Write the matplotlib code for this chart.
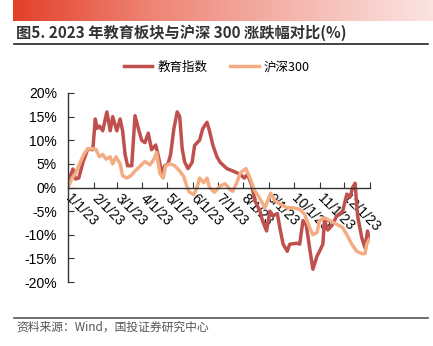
import numpy as np
import pandas as pd
import matplotlib
matplotlib.use("Agg")
import matplotlib.pyplot as plt
from matplotlib.lines import Line2D
from matplotlib.colors import LinearSegmentedColormap

plt.rcParams['font.family'] = ['Liberation Sans', 'Noto Sans CJK SC', 'DejaVu Sans']

# 教育指数 (涨跌幅, %)
edu_dates = ["2023-01-01", "2023-01-04", "2023-01-07", "2023-01-10", "2023-01-14", "2023-01-19",
             "2023-01-25", "2023-01-31", "2023-02-03", "2023-02-05", "2023-02-08", "2023-02-12",
             "2023-02-17", "2023-02-21", "2023-02-24", "2023-03-01", "2023-03-05", "2023-03-08",
             "2023-03-11", "2023-03-14", "2023-03-19", "2023-03-23", "2023-03-27", "2023-03-31",
             "2023-04-04", "2023-04-08", "2023-04-12", "2023-04-17", "2023-04-21", "2023-04-24",
             "2023-04-28", "2023-05-02", "2023-05-05", "2023-05-09", "2023-05-13", "2023-05-16",
             "2023-05-19", "2023-05-22", "2023-05-26", "2023-05-31", "2023-06-03", "2023-06-09",
             "2023-06-13", "2023-06-18", "2023-06-21", "2023-06-25", "2023-06-30", "2023-07-04",
             "2023-07-12", "2023-07-19", "2023-07-28", "2023-08-02", "2023-08-06", "2023-08-11",
             "2023-08-15", "2023-08-21", "2023-08-24", "2023-08-29", "2023-09-02", "2023-09-06",
             "2023-09-11", "2023-09-14", "2023-09-18", "2023-09-23", "2023-09-26", "2023-10-05",
             "2023-10-08", "2023-10-12", "2023-10-16", "2023-10-20", "2023-10-24", "2023-10-29",
             "2023-11-01", "2023-11-05", "2023-11-07", "2023-11-11", "2023-11-16", "2023-11-22",
             "2023-11-29", "2023-12-04", "2023-12-08", "2023-12-11", "2023-12-14", "2023-12-17",
             "2023-12-22", "2023-12-26", "2023-12-29", "2023-12-31"]
edu_vals = [0, 2.5, 3.9, 1.8, 2.0, 5.3,
            8.2, 8.0, 14.5, 12.5, 13.0, 12.0,
            16.0, 12.0, 15.0, 12.0, 14.5, 12.0,
            7.0, 4.6, 4.6, 15.2, 12.5, 10.0,
            9.5, 11.5, 8.0, 9.0, 6.0, 3.2,
            4.6, 5.0, 7.0, 12.5, 16.0, 15.0,
            8.2, 5.4, 4.0, 5.3, 8.9, 10.0,
            12.5, 13.8, 12.0, 9.0, 6.5, 5.3,
            4.0, 3.5, 2.8, 2.0, 2.8, 0.5,
            -2.8, -5.0, -7.0, -9.2, -5.0, -6.0,
            -5.5, -8.5, -12.0, -13.5, -12.0, -11.8,
            -12.0, -7.0, -8.0, -12.8, -17.3, -14.5,
            -13.5, -12.0, -7.0, -9.0, -8.0, -6.0,
            -5.0, -1.4, -2.0, 0.0, 0.9, -6.0,
            -10.6, -12.8, -9.2, -11.0]

# 沪深300 (涨跌幅, %)
hs_dates = ["2023-01-01", "2023-01-06", "2023-01-10", "2023-01-15", "2023-01-20", "2023-01-25",
            "2023-01-31", "2023-02-04", "2023-02-08", "2023-02-12", "2023-02-16", "2023-02-21",
            "2023-02-24", "2023-02-28", "2023-03-05", "2023-03-08", "2023-03-13", "2023-03-18",
            "2023-03-23", "2023-03-29", "2023-04-04", "2023-04-10", "2023-04-15", "2023-04-18",
            "2023-04-22", "2023-04-26", "2023-04-29", "2023-05-04", "2023-05-10", "2023-05-16",
            "2023-05-21", "2023-05-25", "2023-05-28", "2023-06-02", "2023-06-06", "2023-06-09",
            "2023-06-14", "2023-06-18", "2023-06-21", "2023-06-27", "2023-07-04", "2023-07-10",
            "2023-07-16", "2023-07-19", "2023-07-24", "2023-07-28", "2023-07-31", "2023-08-04",
            "2023-08-09", "2023-08-14", "2023-08-18", "2023-08-23", "2023-08-27", "2023-08-31",
            "2023-09-03", "2023-09-08", "2023-09-14", "2023-09-23", "2023-09-30", "2023-10-08",
            "2023-10-14", "2023-10-20", "2023-10-24", "2023-10-29", "2023-11-01", "2023-11-07",
            "2023-11-13", "2023-11-22", "2023-11-29", "2023-12-04", "2023-12-10", "2023-12-16",
            "2023-12-22", "2023-12-26", "2023-12-28", "2023-12-31"]
hs_vals = [0, 2.0, 3.0, 5.0, 7.0, 8.2,
           8.2, 8.0, 6.5, 7.0, 6.0, 6.5,
           5.0, 6.5, 5.0, 2.5, 2.0, 2.5,
           3.5, 4.5, 5.5, 4.8, 6.0, 7.4,
           3.0, 2.0, 4.6, 5.0, 4.6, 3.5,
           2.3, 0.0, -1.0, -1.5, 0.0, 2.0,
           1.0, 2.0, 0.0, -1.0, 0.3, 0.8,
           -0.5, -0.8, 1.0, 3.0, 3.5, 4.0,
           2.0, -0.5, -1.5, -3.0, -4.3, -2.5,
           -1.2, -2.8, -3.5, -4.3, -4.3, -4.6,
           -5.7, -8.5, -10.0, -9.5, -7.0, -6.4,
           -7.0, -7.8, -8.5, -10.0, -12.0, -13.5,
           -14.0, -14.0, -12.0, -11.0]

yticks = [-20, -15, -10, -5, 0, 5, 10, 15, 20]
month_ticks = pd.date_range("2023-01-01", "2024-01-01", freq="MS")
tick_labels = [f"{d.month}/1/23" for d in month_ticks[:-1]] + [""]

fig = plt.figure(figsize=(4.33, 3.46), dpi=100)

# 顶部渐变色条
band = fig.add_axes([13/433, 1 - 21/346, 420/433, 21/346])
grad = np.linspace(0, 1, 256).reshape(1, -1)
cmap = LinearSegmentedColormap.from_list("band", ["#e3402a", "#ee8576", "#f5b6ad", "#fbe4e2"])
band.imshow(grad, aspect="auto", cmap=cmap)
band.axis("off")

fig.text(16/433, 1 - 33/346, "图5. 2023 年教育板块与沪深 300 涨跌幅对比(%)", fontsize=11,
         fontweight="bold", color="#333333", va="center", ha="left",
         family=["Noto Sans CJK SC", "DejaVu Sans"])
fig.add_artist(Line2D([14/433, 428/433], [1 - 44/346, 1 - 44/346], color="#222222", lw=1.2))
fig.add_artist(Line2D([14/433, 428/433], [1 - 318/346, 1 - 318/346], color="#555555", lw=1.2))
fig.text(16/433, 1 - 327/346, "资料来源：Wind，国投证券研究中心", fontsize=8.5, color="#555555",
         va="center", ha="left", style="italic", family=["Noto Sans CJK SC", "DejaVu Sans"])

ax = fig.add_axes([68/433, 1 - 282/346, 302/433, 189/346])
ax.plot(pd.to_datetime(edu_dates), edu_vals, color="#c0504d", lw=2.5, label="教育指数")
ax.plot(pd.to_datetime(hs_dates), hs_vals, color="#f4ad82", lw=2.5, label="沪深300")

ax.spines["top"].set_visible(False)
ax.spines["right"].set_visible(False)
ax.spines["bottom"].set_position(("data", 0))
for s in ["left", "bottom"]:
    ax.spines[s].set_color("#333333")
    ax.spines[s].set_linewidth(1.0)
ax.tick_params(axis="y", direction="in", length=4, pad=8, color="#333333")
ax.tick_params(axis="x", direction="in", length=4, pad=6, color="#333333")

ax.set_ylim(-20, 20)
ax.set_yticks(yticks)
ax.set_yticklabels([f"{v}%" for v in yticks], fontsize=10)
ax.set_xlim(month_ticks[0], month_ticks[-1])
ax.set_xticks(month_ticks)
ax.set_xticklabels(tick_labels, fontsize=10)
for lab in ax.get_xticklabels():
    lab.set_rotation(-45)
    lab.set_ha("left")
    lab.set_va("center")
    lab.set_rotation_mode("anchor")

leg = fig.legend(loc="center", bbox_to_anchor=(0.5, 1 - 67/346), ncol=2, frameon=False,
                 handlelength=2.3, columnspacing=1.8, handletextpad=0.4,
                 prop={"family": ["Noto Sans CJK SC"], "size": 9})

fig.savefig("out.png", dpi=100)
